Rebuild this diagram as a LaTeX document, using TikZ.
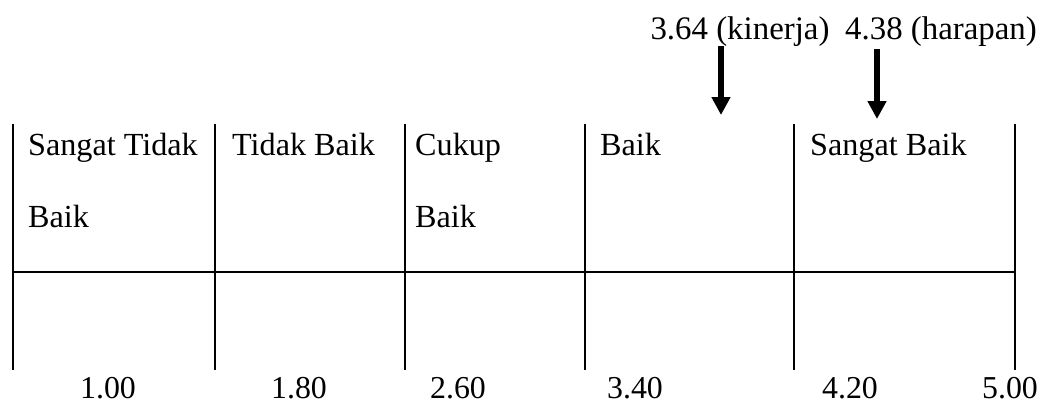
\documentclass[tikz,border=0pt]{standalone}
\usepackage{fontspec}
\setmainfont{Liberation Serif}
\usetikzlibrary{arrows.meta}
\tikzset{
  grid/.style={line width=2.6bp, black},
  celltext/.style={anchor=base west, inner sep=0pt, font=\fontsize{32.3}{36}\selectfont},
  scaletext/.style={anchor=base, inner sep=0pt, font=\fontsize{32}{36}\selectfont},
  toptext/.style={anchor=base, inner sep=0pt, font=\fontsize{33}{36}\selectfont},
  pointer/.style={line width=6bp, -{Triangle[width=18bp,length=18bp]}},
}
\begin{document}
\begin{tikzpicture}[x=1bp,y=-1bp]
\useasboundingbox (0,0) rectangle (1048,403);
% table lines
\foreach \xx in {13,215,405,585,794,1015}{
  \draw[grid] (\xx,124) -- (\xx,370);
}
\draw[grid] (13,272) -- (1015,272);
% cell texts
\node[celltext] (c1a) at (28,155) {Sangat Tidak};
\node[celltext] (c1b) at (28,227) {Baik};
\node[celltext] (c2) at (232,155) {Tidak Baik};
\node[celltext] (c3a) at (415,155) {Cukup};
\node[celltext] (c3b) at (415,227) {Baik};
\node[celltext] (c4) at (600,155) {Baik};
\node[celltext] (c5) at (810,155) {Sangat Baik};
% scale values
\node[scaletext] (v1) at (108,398) {1.00};
\node[scaletext] (v2) at (299,398) {1.80};
\node[scaletext] (v3) at (458,398) {2.60};
\node[scaletext] (v4) at (635,398) {3.40};
\node[scaletext] (v5) at (850,398) {4.20};
\node[scaletext] (v6) at (1010,398) {5.00};
% pointer labels
\node[toptext] (k) at (740,39) {3.64 (kinerja)};
\node[toptext] (h) at (941,39) {4.38 (harapan)};
% pointers
\coordinate (ka) at (721,46);
\coordinate (kb) at (721,115);
\coordinate (ha) at (877,49);
\coordinate (hb) at (877,119);
\draw[pointer] (ka) -- (kb);
\draw[pointer] (ha) -- (hb);
\end{tikzpicture}
\end{document}
